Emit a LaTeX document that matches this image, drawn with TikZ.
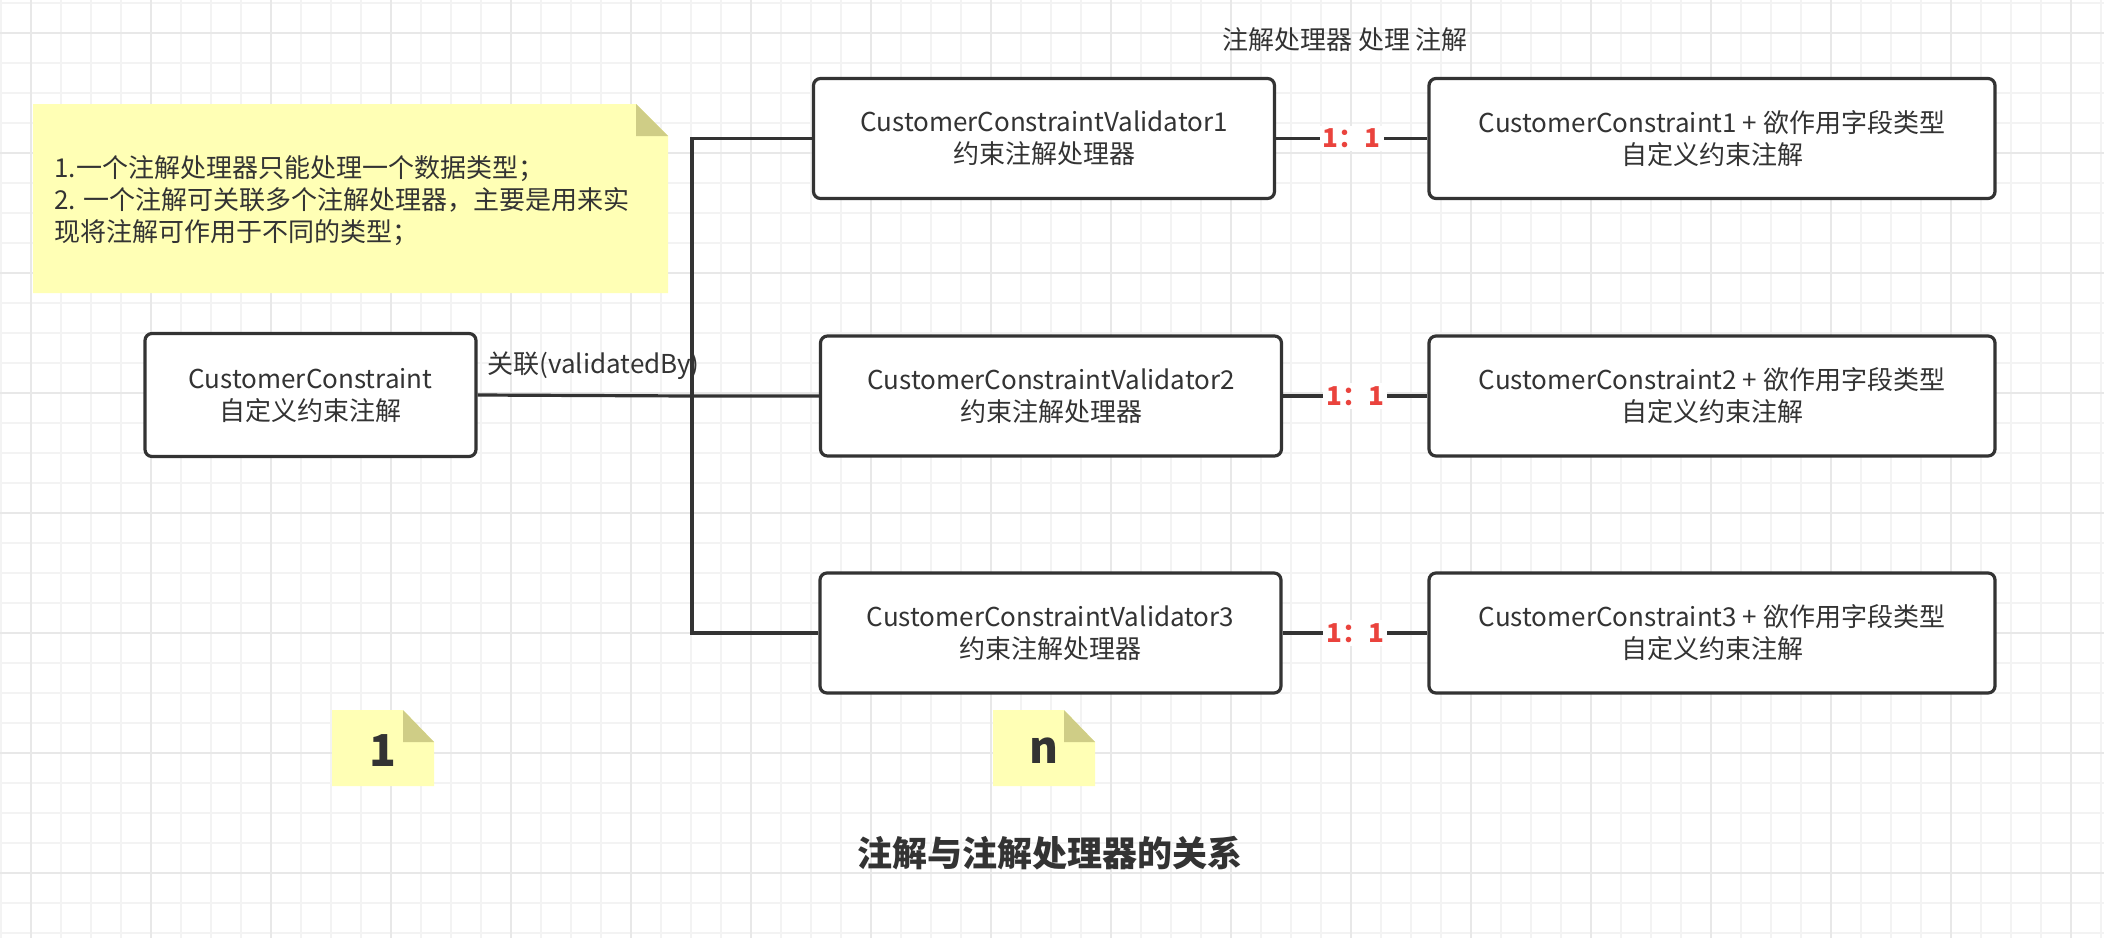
\documentclass[tikz,border=0pt]{standalone}
\usepackage{fontspec}
\setmainfont{Noto Sans CJK SC}
\definecolor{gridminor}{RGB}{243,243,243}
\definecolor{gridmajor}{RGB}{232,232,232}
\definecolor{notefill}{RGB}{255,255,181}
\definecolor{notefold}{RGB}{207,205,134}
\definecolor{ink}{RGB}{51,51,51}
\definecolor{ratiored}{RGB}{234,67,61}
\tikzset{
  gminor/.style={draw=gridminor, line width=0.85pt},
  gmajor/.style={draw=gridmajor, line width=0.85pt},
  box/.style={draw=ink, line width=1.6pt, rounded corners=3.5pt, fill=white,
    align=center, text=ink, inner sep=0pt, font=\fontsize{13}{16}\selectfont},
  abox/.style={box, minimum width=165.5pt, minimum height=61.5pt},
  vbox/.style={box, minimum width=230.5pt, minimum height=60pt},
  cbox/.style={box, minimum width=283pt, minimum height=60pt},
  wire/.style={draw=ink, line width=1.6pt},
  ratiolbl/.style={fill=white, text=ratiored, inner sep=1.5pt,
    font=\bfseries\fontsize{13}{16}\selectfont},
  plain/.style={text=ink, inner sep=0pt, font=\fontsize{13}{16}\selectfont},
  notefillst/.style={fill=notefill},
  notefoldst/.style={fill=notefold},
}
\begin{document}
\begin{tikzpicture}[x=0.5pt, y=-0.5pt]
\useasboundingbox (0,0) rectangle (2104,938);
\fill[white] (0,0) rectangle (2104,938);
% grid
\foreach \x in {1,31,...,2101} \draw[gminor] (\x,0) -- (\x,938);
\foreach \y in {3,33,...,933} \draw[gminor] (0,\y) -- (2104,\y);
\foreach \x in {31,151,...,2071} \draw[gmajor] (\x,0) -- (\x,938);
\foreach \y in {33,153,...,873} \draw[gmajor] (0,\y) -- (2104,\y);

% big note
\path[notefillst] (33,104) -- (636,104) -- (668,136) -- (668,293) -- (33,293) -- cycle;
\path[notefoldst] (636,104) -- (636,136) -- (668,136) -- cycle;
\node[plain, anchor=west, align=left] (notetext) at (54,201)
  {1.一个注解处理器只能处理一个数据类型；\\2. 一个注解可关联多个注解处理器，主要是用来实\\现将注解可作用于不同的类型；};

% small notes
\path[notefillst] (332,710) -- (403,710) -- (434,742) -- (434,786) -- (332,786) -- cycle;
\path[notefoldst] (403,710) -- (403,742) -- (434,742) -- cycle;
\node[plain, font=\bfseries\fontsize{22}{26}\selectfont] (one) at (383,751) {1};
\path[notefillst] (993,710) -- (1064,710) -- (1095,742) -- (1095,786) -- (993,786) -- cycle;
\path[notefoldst] (1064,710) -- (1064,742) -- (1095,742) -- cycle;
\node[plain, font=\bfseries\fontsize{22}{26}\selectfont] (many) at (1044,751) {n};

% texts
\node[plain] (toplbl) at (1345,40) {注解处理器 处理 注解};
\node[plain, font=\bfseries\fontsize{17.5}{20}\selectfont] (title) at (1050,853) {注解与注解处理器的关系};
\node[plain, anchor=west] (assoc) at (487,366) {关联(validatedBy)};

% boxes
\node[abox] (A) at (310.5,395) {CustomerConstraint\\自定义约束注解};
\node[vbox] (V1) at (1044,138.5) {CustomerConstraintValidator1\\约束注解处理器};
\node[vbox] (V2) at (1051,396) {CustomerConstraintValidator2\\约束注解处理器};
\node[vbox] (V3) at (1050.5,633) {CustomerConstraintValidator3\\约束注解处理器};
\node[cbox] (C1) at (1712,138.5) {CustomerConstraint1 + 欲作用字段类型\\自定义约束注解};
\node[cbox] (C2) at (1712,396) {CustomerConstraint2 + 欲作用字段类型\\自定义约束注解};
\node[cbox] (C3) at (1712,633) {CustomerConstraint3 + 欲作用字段类型\\自定义约束注解};

% connectors
\coordinate (J) at (692,396);
\draw[wire] (A.east) -- (J) -- (V2.west);
\draw[wire, line join=miter] (J) |- (V1.west);
\draw[wire, line join=miter] (J) |- (V3.west);
\draw[wire] (V1.east) -- (C1.west) node[midway, ratiolbl] (r1) {1：1};
\draw[wire] (V2.east) -- (C2.west) node[midway, ratiolbl] (r2) {1：1};
\draw[wire] (V3.east) -- (C3.west) node[midway, ratiolbl] (r3) {1：1};
\end{tikzpicture}
\end{document}
